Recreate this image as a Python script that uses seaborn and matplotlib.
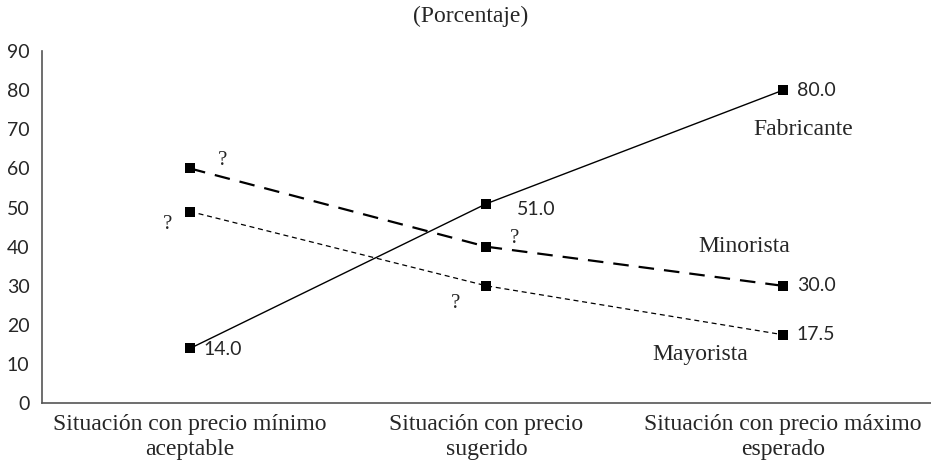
import numpy as np
import pandas as pd
import seaborn as sns
import matplotlib.pyplot as plt

sns.set_style('white')
plt.rcParams['font.family'] = ['Liberation Serif', 'DejaVu Serif']

categories = ['Situación con precio mínimo\naceptable',
              'Situación con precio\nsugerido',
              'Situación con precio máximo\nesperado']
fabricante = [14.0, 51.0, 80.0]
minorista = [60.0, 40.0, 30.0]
mayorista = [49.0, 30.0, 17.5]
series_names = ['Fabricante', 'Minorista', 'Mayorista']
value_labels = {'Fabricante': ['14.0', '51.0', '80.0'],
                'Minorista': ['?', '?', '30.0'],
                'Mayorista': ['?', '?', '17.5']}

rows = []
for name, vals in zip(series_names, [fabricante, minorista, mayorista]):
    for i, v in enumerate(vals):
        rows.append({'x': i, 'valor': v, 'serie': name})
df = pd.DataFrame(rows)

fig = plt.figure(figsize=(9.31, 4.65), dpi=100)
ax = fig.add_axes([0.045, 0.133, 0.955, 0.757])

styles = {'Fabricante': dict(ls='-', lw=1.0),
          'Minorista': dict(ls=(0, (7, 4.5)), lw=1.6),
          'Mayorista': dict(ls=(0, (4, 3)), lw=0.9)}
for name in series_names:
    sub = df[df['serie'] == name]
    sns.lineplot(data=sub, x='x', y='valor', ax=ax, color='black',
                 linestyle=styles[name]['ls'], linewidth=styles[name]['lw'],
                 marker='s', markersize=7, markeredgewidth=0,
                 markerfacecolor='black', legend=False)

# value labels and question marks (offsets in points)
offsets = {
    ('Fabricante', 0): (10, -1, 'left', 'center'),
    ('Fabricante', 1): (22, -4, 'left', 'center'),
    ('Fabricante', 2): (10, 0, 'left', 'center'),
    ('Minorista', 0): (20, 6, 'left', 'center'),
    ('Minorista', 1): (17, 6, 'left', 'center'),
    ('Minorista', 2): (10, 0, 'left', 'center'),
    ('Mayorista', 0): (-16, -9, 'center', 'center'),
    ('Mayorista', 1): (-22, -13, 'center', 'center'),
    ('Mayorista', 2): (10, 0, 'left', 'center'),
}
for name, vals in zip(series_names, [fabricante, minorista, mayorista]):
    for i, v in enumerate(vals):
        dx, dy, ha, va = offsets[(name, i)]
        txt = value_labels[name][i]
        if txt == '?':
            ax.annotate(txt, (i, v), xytext=(dx, dy), textcoords='offset points',
                        ha=ha, va=va, fontsize=15)
        else:
            ax.annotate(txt, (i, v), xytext=(dx, dy), textcoords='offset points',
                        ha=ha, va=va, family='Lato', fontsize=14)

ax.text(2.07, 70, 'Fabricante', ha='center', va='center', fontsize=17)
ax.text(1.87, 40, 'Minorista', ha='center', va='center', fontsize=17)
ax.text(1.72, 12.5, 'Mayorista', ha='center', va='center', fontsize=17)

ax.set_xlim(-0.5, 2.5)
ax.set_ylim(0, 90)
ax.set_yticks(np.arange(0, 91, 10))
ax.set_xticks([-0.5, 0.5, 1.5, 2.5])
ax.set_xticklabels([])
ax.set_xticks([0, 1, 2], minor=True)
ax.set_xticklabels(categories, minor=True, fontsize=17, linespacing=1.25)
ax.tick_params(axis='x', which='minor', length=0, pad=8)
ax.tick_params(axis='x', which='major', length=8, width=1, color='#555555', direction='out')
ax.tick_params(axis='y', length=7, width=1, color='#555555', direction='out', pad=2)
for lab in ax.get_yticklabels():
    lab.set_family('Lato')
    lab.set_fontsize(14)
ax.set_xlabel('')
ax.set_ylabel('')
sns.despine(ax=ax, top=True, right=True)
for side in ['left', 'bottom']:
    ax.spines[side].set_color('#555555')
    ax.spines[side].set_linewidth(1.2)

fig.text(0.505, 0.965, '(Porcentaje)', ha='center', va='center', fontsize=17)

fig.savefig('out.png', dpi=100)
